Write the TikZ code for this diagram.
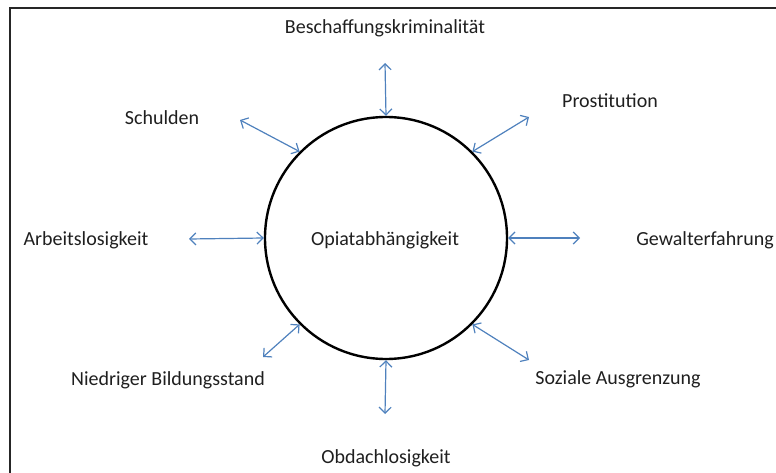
\documentclass[tikz,border=0pt]{standalone}
\usepackage{fontspec}
\setmainfont{Carlito}
\usetikzlibrary{arrows.meta}

\definecolor{linkblue}{HTML}{4F81BD}

\begin{document}
\begin{tikzpicture}[x=1pt,y=-1pt,
  label/.style={font=\fontsize{20}{24}\selectfont,text=black!88,inner sep=0pt},
  link/.style={draw=linkblue,line width=1.2pt,
    {Straight Barb[length=6pt,width=12pt]}-{Straight Barb[length=6pt,width=12pt]}}]
\useasboundingbox (0,0) rectangle (776,473);
\draw[line width=2pt,black!85] (10,473)--(10,8)--(776,8);
% centre
\node[circle,draw,line width=2.4pt,minimum size=242pt,inner sep=0pt] (op) at (386,238) {};
\node[label] (opt) at (385,240) {Opiatabhängigkeit};
% labels round the circle
\node[label] (bk) at (385,28) {Beschaffungskriminalität};
\node[label] (pr) at (610,101) {Prostitution};
\node[label] (sc) at (162,118) {Schulden};
\node[label] (al) at (86,240) {Arbeitslosigkeit};
\node[label] (ge) at (705,240) {Gewalterfahrung};
\node[label] (nb) at (168,380) {Niedriger Bildungsstand};
\node[label] (sa) at (618,379) {Soziale Ausgrenzung};
\node[label] (ob) at (386,458) {Obdachlosigkeit};
% outer ends of the arrows
\coordinate (bk-e) at (385,63);
\coordinate (pr-e) at (529,117);
\coordinate (sc-e) at (240,120);
\coordinate (al-e) at (189,239);
\coordinate (ge-e) at (580,238);
\coordinate (nb-e) at (263,357);
\coordinate (sa-e) at (529,360);
\coordinate (ob-e) at (385,414);
\draw[link] (op.90)--(bk-e);
\draw[link] (op.45)--(pr-e);
\draw[link] (op.135)--(sc-e);
\draw[link] (op.180)--(al-e);
\draw[link] (op.0)--(ge-e);
\draw[link] (op.225)--(nb-e);
\draw[link] (op.315)--(sa-e);
\draw[link] (op.270)--(ob-e);
\end{tikzpicture}
\end{document}
